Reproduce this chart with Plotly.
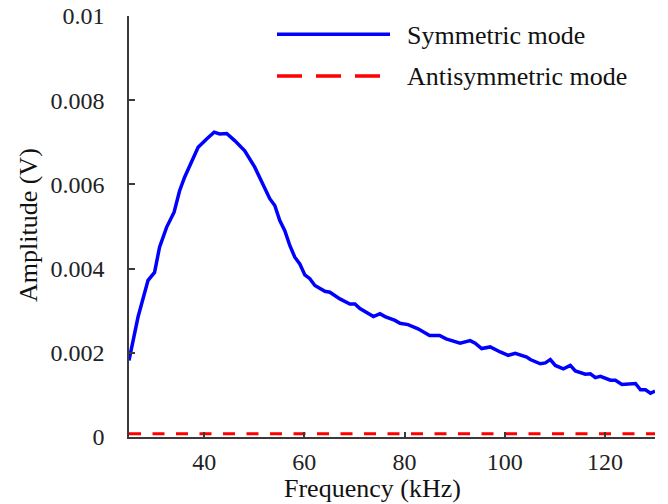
import plotly.graph_objects as go

# Data
freq_khz = [25.0, 26.8, 28.8, 30.1, 31.1, 32.5, 34.0, 35.1, 36.1, 38.8, 40.5, 42.0,
            43.1, 44.5, 46.1, 48.1, 50.1, 51.4, 53.1, 54.1, 55.1, 56.1, 57.1, 58.1,
            59.1, 60.1, 61.1, 62.1, 64.1, 65.1, 67.1, 69.1, 70.1, 71.1, 73.8, 75.1,
            76.1, 78.1, 79.1, 80.7, 82.7, 85.0, 87.0, 88.3, 91.1, 93.1, 94.1, 95.4,
            97.1, 99.1, 100.7, 102.1, 104.4, 105.1, 107.1, 108.1, 109.1, 110.1, 111.7,
            113.1, 114.1, 116.1, 117.1, 118.1, 119.1, 121.1, 122.1, 123.4, 126.1,
            127.1, 128.1, 129.1, 130.0]
symmetric_v = [0.00182, 0.00285, 0.00372, 0.00391, 0.00451, 0.00498, 0.00534, 0.00585,
               0.00617, 0.00688, 0.00708, 0.00724, 0.00720, 0.00721, 0.00704, 0.00680,
               0.00641, 0.00609, 0.00566, 0.00550, 0.00514, 0.00490, 0.00455, 0.00427,
               0.00411, 0.00385, 0.00376, 0.00360, 0.00346, 0.00344, 0.00328, 0.00316,
               0.00316, 0.00305, 0.00286, 0.00293, 0.00286, 0.00277, 0.00270, 0.00267,
               0.00257, 0.00241, 0.00241, 0.00233, 0.00223, 0.00229, 0.00223, 0.00210,
               0.00214, 0.00202, 0.00194, 0.00199, 0.00190, 0.00184, 0.00174, 0.00176,
               0.00184, 0.00170, 0.00162, 0.00170, 0.00157, 0.00149, 0.00150, 0.00141,
               0.00144, 0.00135, 0.00135, 0.00125, 0.00127, 0.00112, 0.00112, 0.00104,
               0.00109]
anti_freq_khz = [25.0, 130.0]
antisymmetric_v = [0.00008, 0.00008]

x_tickvals = [40, 60, 80, 100, 120]
x_ticktext = ["40", "60", "80", "100", "120"]
y_tickvals = [0, 0.002, 0.004, 0.006, 0.008, 0.01]
y_ticktext = ["0", "0.002", "0.004", "0.006", "0.008", "0.01"]

FONT = "Liberation Serif, Times New Roman, serif"
BLUE = "#0000ff"
RED = "#ff0000"
AXIS = "#3a3a3a"

fig = go.Figure()
fig.add_trace(go.Scatter(x=freq_khz, y=symmetric_v, mode="lines",
                         line=dict(color=BLUE, width=3.5), name="Symmetric mode",
                         showlegend=False))
fig.add_trace(go.Scatter(x=anti_freq_khz, y=antisymmetric_v, mode="lines",
                         line=dict(color=RED, width=3, dash="12px,11.5px"),
                         name="Antisymmetric mode", showlegend=False))

W, H = 668, 504
L, R, T, B = 129, 13, 16, 67
pw, ph = W - L - R, H - T - B


def px_x(p):
    return (p - L) / pw


def px_y(p):
    return (H - B - p) / ph


fig.update_layout(
    width=W, height=H,
    margin=dict(l=L, r=R, t=T, b=B, autoexpand=False),
    paper_bgcolor="white", plot_bgcolor="white",
    font=dict(family=FONT, size=24, color="#222"),
    xaxis=dict(range=[25, 130], tickvals=x_tickvals, ticktext=x_ticktext,
               ticks="inside", ticklen=5, tickwidth=1.5, tickcolor=AXIS,
               showline=True, linecolor=AXIS, linewidth=1.5, showgrid=False,
               zeroline=False, ticklabelstandoff=2, automargin=False,
               tickfont=dict(family=FONT, size=24, color="#222")),
    yaxis=dict(range=[0, 0.01], tickvals=y_tickvals, ticktext=y_ticktext,
               ticks="inside", ticklen=6, tickwidth=1.5, tickcolor=AXIS,
               showline=True, linecolor=AXIS, linewidth=1.5, showgrid=False,
               zeroline=False, ticklabelstandoff=18, automargin=False,
               tickfont=dict(family=FONT, size=24, color="#222")),
    showlegend=False,
)

# Axis titles placed as annotations
fig.add_annotation(text="Frequency (kHz)", xref="paper", yref="paper",
                   x=px_x(372), y=px_y(488), xanchor="center", yanchor="middle",
                   showarrow=False, font=dict(family=FONT, size=26, color="#111"))
fig.add_annotation(text="Amplitude (V)", xref="paper", yref="paper",
                   x=px_x(28), y=px_y(225), xanchor="center", yanchor="middle",
                   textangle=-90, showarrow=False,
                   font=dict(family=FONT, size=26, color="#111"))

# Custom legend
fig.add_shape(type="line", xref="paper", yref="paper",
              x0=px_x(277), x1=px_x(390), y0=px_y(34.3), y1=px_y(34.3),
              line=dict(color=BLUE, width=3.5))
fig.add_shape(type="line", xref="paper", yref="paper",
              x0=px_x(277), x1=px_x(381), y0=px_y(76), y1=px_y(76),
              line=dict(color=RED, width=3.5, dash="25px,14px"))
fig.add_annotation(text="Symmetric mode", xref="paper", yref="paper",
                   x=px_x(405), y=px_y(35), xanchor="left", yanchor="middle",
                   showarrow=False, font=dict(family=FONT, size=26, color="#111"))
fig.add_annotation(text="Antisymmetric mode", xref="paper", yref="paper",
                   x=px_x(405), y=px_y(76), xanchor="left", yanchor="middle",
                   showarrow=False, font=dict(family=FONT, size=26, color="#111"))

fig.write_html("out.html")
